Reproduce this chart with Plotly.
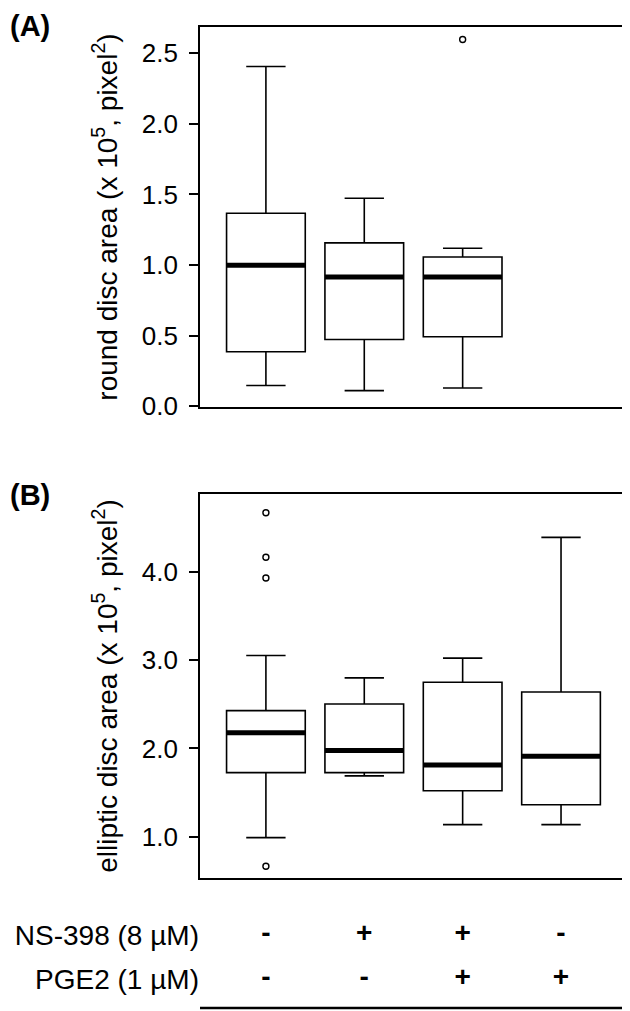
import plotly.graph_objects as go

groups = [1, 2, 3, 4]

# (A) round disc area, x 10^5 pixel^2 (no data for the 4th condition)
round_groups = [1, 2, 3]
round_low = [0.147, 0.111, 0.130]
round_q1 = [0.386, 0.473, 0.492]
round_median = [0.998, 0.915, 0.915]
round_q3 = [1.367, 1.157, 1.057]
round_high = [2.405, 1.473, 1.119]
round_out_x = [3]
round_out_y = [2.597]

# (B) elliptic disc area, x 10^5 pixel^2
ell_low = [0.989, 1.689, 1.137, 1.137]
ell_q1 = [1.726, 1.726, 1.520, 1.362]
ell_median = [2.179, 1.977, 1.813, 1.912]
ell_q3 = [2.429, 2.503, 2.750, 2.640]
ell_high = [3.053, 2.800, 3.023, 4.392]
ell_out_x = [1, 1, 1, 1]
ell_out_y = [4.670, 4.167, 3.931, 0.665]

# treatment table under the plots
row_labels = ["NS-398 (8 µM)", "PGE2 (1 µM)"]
ns398 = ["-", "+", "+", "-"]
pge2 = ["-", "-", "+", "+"]

FONT = "Arial, Liberation Sans, sans-serif"
BOX_W = 0.8
# page has an 8px body margin, so the figure is drawn 8px smaller
W, H = 622, 1003


def median_segments(xs, meds):
    sx, sy = [], []
    for x, m in zip(xs, meds):
        sx += [x - BOX_W / 2, x + BOX_W / 2, None]
        sy += [m, m, None]
    return sx, sy


fig = go.Figure()

panels = [
    ("x", "y", round_groups, round_low, round_q1, round_median, round_q3, round_high, round_out_x, round_out_y),
    ("x2", "y2", groups, ell_low, ell_q1, ell_median, ell_q3, ell_high, ell_out_x, ell_out_y),
]
for xa, ya, xs, lo, q1, med, q3, hi, ox, oy in panels:
    fig.add_trace(go.Box(
        x=xs, q1=q1, median=med, q3=q3, lowerfence=lo, upperfence=hi,
        width=BOX_W, whiskerwidth=0.5, boxpoints=False,
        fillcolor="white", line=dict(color="black", width=1.6),
        xaxis=xa, yaxis=ya, hoverinfo="skip",
    ))
    mx, my = median_segments(xs, med)
    fig.add_trace(go.Scatter(
        x=mx, y=my, mode="lines", line=dict(color="black", width=5),
        xaxis=xa, yaxis=ya, hoverinfo="skip",
    ))
    fig.add_trace(go.Scatter(
        x=ox, y=oy, mode="markers",
        marker=dict(symbol="circle-open", size=6, color="black", line=dict(width=1.4)),
        xaxis=xa, yaxis=ya, hoverinfo="skip",
    ))

for row, signs in enumerate([ns398, pge2]):
    fig.add_trace(go.Scatter(
        x=groups, y=[row] * len(groups), text=["<b>%s</b>" % s for s in signs], mode="text",
        textfont=dict(family=FONT, size=28, color="black"),
        xaxis="x3", yaxis="y3", hoverinfo="skip",
    ))

xdom = [192 / W, 615 / W]
xrange = [0.33, 4.63]
frame = dict(showline=True, mirror=True, linecolor="black", linewidth=1.6,
             showgrid=False, zeroline=False, automargin=False)
yticks = dict(ticks="outside", ticklen=9, tickwidth=1.6, tickcolor="black",
              ticklabelstandoff=6,
              tickformat=".1f", tickfont=dict(family=FONT, size=26, color="black"))
ytitle_font = dict(family=FONT, size=28, color="black")

fig.update_layout(
    width=W, height=H,
    margin=dict(l=0, r=0, t=0, b=0),
    paper_bgcolor="white", plot_bgcolor="white",
    showlegend=False,
    font=dict(family=FONT, color="black"),
    xaxis=dict(domain=xdom, range=xrange, anchor="y", showticklabels=False, ticks="", **frame),
    yaxis=dict(domain=[1 - 399 / H, 1 - 19 / H], range=[-0.005, 2.685], anchor="x",
               tickvals=[0, 0.5, 1.0, 1.5, 2.0, 2.5],
               title=dict(text="round disc area (x 10<sup>5</sup>, pixel<sup>2</sup>)",
                          font=ytitle_font, standoff=16),
               **yticks, **frame),
    xaxis2=dict(domain=xdom, range=xrange, anchor="y2", showticklabels=False, ticks="", **frame),
    yaxis2=dict(domain=[1 - 870 / H, 1 - 486 / H], range=[0.532, 4.883], anchor="x2",
                tickvals=[1.0, 2.0, 3.0, 4.0],
                title=dict(text="elliptic disc area (x 10<sup>5</sup>, pixel<sup>2</sup>)",
                           font=ytitle_font, standoff=16),
                **yticks, **frame),
    xaxis3=dict(domain=xdom, range=xrange, anchor="y3", visible=False, automargin=False),
    yaxis3=dict(domain=[1 - 994 / H, 1 - 907 / H], range=[1.523, -0.455], anchor="x3",
                tickvals=[0, 1], ticktext=row_labels, ticks="", automargin=False,
                showline=False, showgrid=False, zeroline=False,
                tickfont=dict(family=FONT, size=28, color="black")),
    annotations=[
        dict(text="<b>(A)</b>", x=0, y=1, xref="paper", yref="paper",
             xanchor="left", yanchor="top", showarrow=False,
             font=dict(family=FONT, size=29, color="black")),
        dict(text="<b>(B)</b>", x=0, y=1 - 469 / H, xref="paper", yref="paper",
             xanchor="left", yanchor="top", showarrow=False,
             font=dict(family=FONT, size=29, color="black")),
    ],
    shapes=[
        dict(type="line", xref="paper", yref="paper", x0=192 / W, x1=1,
             y0=1 - 1000 / H, y1=1 - 1000 / H, line=dict(color="black", width=2.5)),
    ],
)

fig.write_html("out.html")
